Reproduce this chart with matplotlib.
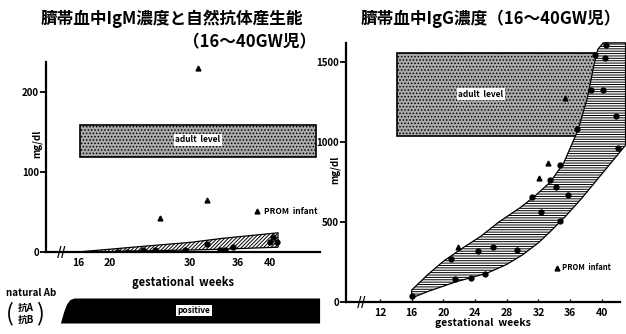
import matplotlib.pyplot as plt
from matplotlib.patches import Rectangle

plt.rcParams['font.family'] = ['Noto Sans CJK JP', 'DejaVu Sans']
plt.rcParams['hatch.linewidth'] = 0.7

# IgM (left)
igm_band_x = [16, 18, 20, 24, 30, 34, 41]
igm_upper = [0, 1.8, 3.5, 7, 12, 17, 24]
igm_lower = [0, 0.2, 0.5, 1.5, 2.5, 3.5, 6]
igm_dots_x = [21, 22.1, 24.1, 25.6, 29.4, 32.1, 33.75, 34.4, 35.4, 40, 40.9, 40.4]
igm_dots_y = [0, 0, 2, 3, 3, 10, 2.5, 2.5, 6, 12, 12, 19]
igm_prom_x = [31, 26.25, 32.1]
igm_prom_y = [230, 42, 65]
igm_adult = (119, 159)
igm_xticks = [16, 20, 30, 36, 40]
igm_yticks = [0, 100, 200]

# natural Ab strip
ab_x = [13.8, 14.2, 14.6, 15.0, 15.5, 46.2]
ab_y = [0, 0.45, 0.78, 0.94, 1, 1]

# IgG (right)
igg_upper_x = [16, 18, 20, 22.5, 24.7, 27, 29.7, 31.5, 33.5, 35.2, 37, 38.2, 39, 39.5, 40.2, 43]
igg_upper = [75, 170, 255, 340, 410, 500, 590, 660, 750, 870, 1075, 1280, 1480, 1580, 1620, 1620]
igg_lower_x = [16, 18, 21.5, 25.5, 28, 30, 32, 33.5, 35.5, 37.5, 39.5, 41, 43]
igg_lower = [25, 65, 125, 180, 235, 295, 370, 440, 540, 650, 770, 860, 980]
igg_dots_x = [16, 20.9, 21.5, 23.5, 24.4, 25.3, 26.3, 29.3, 31.2, 32.3, 33.4, 34.2,
              34.7, 35.7, 34.7, 36.9, 38.6, 40.2, 39.2, 40.4, 40.5, 41.8, 42]
igg_dots_y = [37, 270, 145, 150, 320, 175, 345, 325, 655, 560, 765, 720,
              855, 670, 505, 1080, 1325, 1325, 1545, 1525, 1605, 1160, 960]
igg_prom_x = [21.8, 32.1, 33.2, 35.4]
igg_prom_y = [345, 775, 870, 1275]
igg_adult = (1040, 1555)
igg_xticks = [12, 16, 20, 24, 28, 32, 36, 40]
igg_yticks = [0, 500, 1000, 1500]

fig = plt.figure(figsize=(6.26, 3.34), dpi=100)


def style(ax):
    for s in ['top', 'right']:
        ax.spines[s].set_visible(False)
    ax.spines['left'].set_linewidth(1.6)
    ax.spines['bottom'].set_linewidth(1.6)
    ax.tick_params(axis='y', direction='out', length=4, width=1.3, labelsize=7, pad=1)
    ax.tick_params(axis='x', length=0, labelsize=7.5, pad=4)
    for t in ax.get_xticklabels() + ax.get_yticklabels():
        t.set_fontweight('bold')


# left chart
ax1 = fig.add_axes([46 / 626, 82 / 334, 274 / 626, 190 / 334])
ax1.set_xlim(12, 46.25)
ax1.set_ylim(0, 237.5)
ax1.add_patch(Rectangle((16.25, igm_adult[0]), 45.75 - 16.25, igm_adult[1] - igm_adult[0],
                        facecolor='#ababab', edgecolor='black', lw=1.2, hatch='.....', zorder=1))
ax1.text(31, 140, 'adult  level', ha='center', va='center', fontsize=6, fontweight='bold',
         bbox=dict(facecolor='white', edgecolor='none', pad=1))
ax1.fill_between(igm_band_x, igm_lower, igm_upper, facecolor='white', edgecolor='black',
                 hatch='/////////', lw=0.9, zorder=2)
ax1.plot(igm_dots_x, igm_dots_y, 'o', color='black', ms=3.5, zorder=3)
ax1.plot(igm_prom_x, igm_prom_y, '^', color='black', ms=3.5, zorder=3)
ax1.plot([38.4], [51], '^', color='black', ms=3.5)
ax1.text(39.2, 51, 'PROM  infant', va='center', fontsize=6, fontweight='bold')
ax1.text(14, 0, '//', ha='center', va='center', fontsize=9, fontweight='bold')
ax1.set_xticks(igm_xticks)
ax1.set_yticks(igm_yticks)
ax1.set_ylabel('mg/dl', fontsize=7, fontweight='bold')
ax1.yaxis.set_label_coords(-0.012, 0.57)
ax1.set_xlabel('gestational  weeks', fontsize=8, fontweight='bold', labelpad=6)
style(ax1)

# natural Ab strip
ax3 = fig.add_axes([46 / 626, 11 / 334, 274 / 626, 25 / 334])
ax3.set_xlim(12, 46.25)
ax3.set_ylim(0, 1)
ax3.fill_between(ab_x, 0, ab_y, color='black', lw=0)
ax3.text(30.5, 0.5, 'positive', ha='center', va='center', fontsize=6, fontweight='bold',
         bbox=dict(facecolor='white', edgecolor='none', pad=1))
ax3.axis('off')
fig.text(6 / 626, 1 - 293 / 334, 'natural Ab', fontsize=7, fontweight='bold', va='center')
fig.text(18 / 626, 1 - 308 / 334, '抗A', fontsize=7, fontweight='bold', va='center')
fig.text(18 / 626, 1 - 320 / 334, '抗B', fontsize=7, fontweight='bold', va='center')
fig.text(10 / 626, 1 - 314 / 334, '(', fontsize=17, ha='center', va='center')
fig.text(40 / 626, 1 - 314 / 334, ')', fontsize=17, ha='center', va='center')

# right chart
ax2 = fig.add_axes([346 / 626, 32 / 334, 274 / 626, 259 / 334])
ax2.set_xlim(7.7, 42.3)
ax2.set_ylim(0, 1619)
ax2.add_patch(Rectangle((14.1, igg_adult[0]), 42.9 - 14.1, igg_adult[1] - igg_adult[0],
                        facecolor='#ababab', edgecolor='black', lw=1.2, hatch='.....',
                        zorder=1, clip_on=False))
ax2.text(24.7, 1300, 'adult  level', ha='center', va='center', fontsize=6, fontweight='bold',
         bbox=dict(facecolor='white', edgecolor='none', pad=1))
px = igg_upper_x + [43] + igg_lower_x[::-1]
py = igg_upper + [980] + igg_lower[::-1]
ax2.fill(px, py, facecolor='white', edgecolor='black', hatch='-------', lw=0.9,
         zorder=2, clip_on=False)
ax2.plot(igg_dots_x, igg_dots_y, 'o', color='black', ms=3.5, zorder=3, clip_on=False)
ax2.plot(igg_prom_x, igg_prom_y, '^', color='black', ms=3.5, zorder=3)
ax2.plot([34.3], [215], '^', color='black', ms=3.5)
ax2.text(35.0, 215, 'PROM  infant', va='center', fontsize=5.5, fontweight='bold')
ax2.text(9.7, 0, '//', ha='center', va='center', fontsize=9, fontweight='bold')
ax2.set_xticks(igg_xticks)
ax2.set_yticks(igg_yticks)
ax2.set_ylabel('mg/dl', fontsize=7, fontweight='bold')
ax2.yaxis.set_label_coords(-0.02, 0.51)
ax2.set_xlabel('gestational  weeks', fontsize=7.5, fontweight='bold', labelpad=0)
style(ax2)
ax2.tick_params(axis='x', direction='in', length=2, width=1)

# titles
fig.text(172 / 626, 1 - 19 / 334, '臍帯血中IgM濃度と自然抗体産生能', ha='center', va='center',
         fontsize=12, fontweight='bold')
fig.text(250 / 626, 1 - 42 / 334, '（16〜40GW児）', ha='center', va='center',
         fontsize=12, fontweight='bold')
fig.text(491 / 626, 1 - 19 / 334, '臍帯血中IgG濃度（16〜40GW児）', ha='center', va='center',
         fontsize=12, fontweight='bold')

fig.savefig('out.png', dpi=100)
